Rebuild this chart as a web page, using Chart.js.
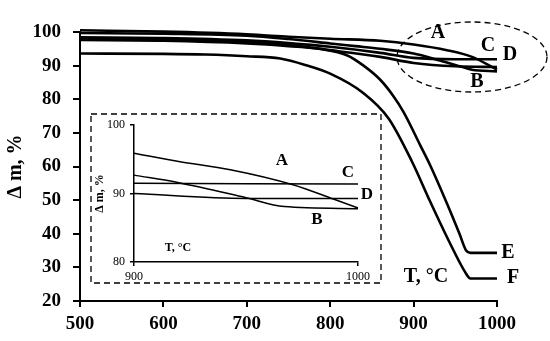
<!DOCTYPE html>
<html lang="en">
<head>
    <meta charset="UTF-8">
    <title>TGA curves</title>
    <script src="https://cdn.jsdelivr.net/npm/chart.js"></script>
    <style>
        body { margin: 0; background: #fff; }
        #wrap { position: relative; width: 550px; height: 341px; }
        #mainChart { position: absolute; left: 0; top: 0; }
        #insetChart { position: absolute; left: 90px; top: 113px; }
    </style>
</head>
<body>
    <div id="wrap">
        <canvas id="mainChart" width="550" height="341"></canvas>
        <canvas id="insetChart" width="292" height="171"></canvas>
    </div>

    <script>
        // temperature (°C) and mass (%)
        const tempA = [500, 600, 700, 750, 800, 860, 900, 940, 970, 1000];
        const massA = [100.5, 100.1, 99.3, 98.6, 98.0, 97.4, 96.3, 94.6, 92.6, 88.8];
        const tempB = [500, 600, 700, 750, 800, 830, 860, 900, 925, 950, 970, 1000];
        const massB = [99.7, 99.5, 98.9, 97.9, 96.6, 95.8, 95.0, 93.6, 92.0, 90.2, 88.8, 88.3];
        const tempC = [500, 600, 700, 750, 800, 860, 900, 950, 1000];
        const massC = [98.4, 98.2, 97.5, 96.7, 95.6, 93.8, 92.3, 91.9, 91.9];
        const tempD = [500, 600, 700, 750, 800, 860, 900, 950, 1000];
        const massD = [97.9, 97.7, 97.0, 96.1, 94.6, 92.6, 90.8, 89.8, 89.6];
        const tempE = [500, 600, 700, 750, 790, 820, 840, 860, 875, 888, 908, 920, 940, 955, 963, 968, 1000];
        const massE = [97.6, 97.4, 96.6, 95.8, 94.9, 93.1, 90.0, 85.8, 81.2, 76.2, 66.3, 60.3, 49.0, 40.0, 35.0, 34.3, 34.3];
        const tempF = [500, 600, 650, 700, 740, 770, 800, 840, 870, 898, 920, 942, 962, 968, 1000];
        const massF = [93.6, 93.5, 93.3, 92.8, 92.1, 90.2, 87.6, 81.8, 74.3, 61.5, 49.5, 38.0, 28.5, 26.7, 26.7];

        // zoomed 900-1000 °C part (inset)
        const insetTempA = [900, 920, 943, 971, 989, 1000];
        const insetMassA = [95.9, 94.7, 93.5, 91.3, 89.2, 87.9];
        const insetTempB = [900, 920, 950, 967, 1000];
        const insetMassB = [92.7, 91.6, 89.4, 88.1, 87.8];
        const insetTempC = [900, 1000];
        const insetMassC = [91.5, 91.4];
        const insetTempD = [900, 950, 1000];
        const insetMassD = [90.0, 89.3, 89.3];

        const xTicks = [500, 600, 700, 800, 900, 1000];
        const yTicks = [20, 30, 40, 50, 60, 70, 80, 90, 100];
        const insetXTicks = [900, 1000];
        const insetYTicks = [80, 90, 100];

        const serif = "'Liberation Serif', 'DejaVu Serif', serif";

        function toPoints(xs, ys) {
            return xs.map((x, i) => ({ x: x, y: ys[i] }));
        }

        function curve(xs, ys, width) {
            return {
                data: toPoints(xs, ys),
                borderColor: '#000',
                borderWidth: width,
                pointRadius: 0,
                cubicInterpolationMode: 'monotone',
                fill: false,
                clip: 8
            };
        }

        function label(ctx, text, x, y, size) {
            ctx.font = 'bold ' + size + 'px ' + serif;
            ctx.fillStyle = '#000';
            ctx.textAlign = 'center';
            ctx.textBaseline = 'middle';
            ctx.fillText(text, x, y);
        }

        // main chart: dashed ellipse and curve letters
        const mainDecor = {
            id: 'mainDecor',
            afterDraw(chart) {
                const ctx = chart.ctx;
                ctx.save();
                ctx.strokeStyle = '#000';
                ctx.lineWidth = 1.3;
                ctx.setLineDash([6, 4]);
                ctx.beginPath();
                ctx.ellipse(472, 57, 75, 35, 0, 0, Math.PI * 2);
                ctx.stroke();
                ctx.setLineDash([]);
                label(ctx, 'A', 438, 33, 20);
                label(ctx, 'C', 488, 46, 20);
                label(ctx, 'D', 510, 55, 20);
                label(ctx, 'B', 477, 82, 20);
                label(ctx, 'E', 508, 253, 20);
                label(ctx, 'F', 513, 278, 20);
                label(ctx, 'T, °C', 426, 277, 20);
                ctx.restore();
            }
        };

        new Chart(document.getElementById('mainChart'), {
            type: 'line',
            data: {
                datasets: [
                    curve(tempA, massA, 2.6),
                    curve(tempB, massB, 2.6),
                    curve(tempC, massC, 2.6),
                    curve(tempD, massD, 2.6),
                    curve(tempE, massE, 2.6),
                    curve(tempF, massF, 2.6)
                ]
            },
            options: {
                responsive: false,
                animation: false,
                devicePixelRatio: 1,
                layout: { padding: { top: 32, right: 53, left: 0, bottom: 0 } },
                plugins: { legend: { display: false }, tooltip: { enabled: false } },
                scales: {
                    x: {
                        type: 'linear',
                        min: 500,
                        max: 1000,
                        afterBuildTicks: s => { s.ticks = xTicks.map(v => ({ value: v })); },
                        afterFit: s => { s.height = 40; },
                        border: { display: true, color: '#000', width: 2 },
                        grid: { drawOnChartArea: false, drawTicks: true, tickLength: 6, color: '#000', lineWidth: 2 },
                        ticks: { color: '#000', padding: 6, callback: v => String(v), font: { family: serif, size: 19, weight: 'bold' } }
                    },
                    y: {
                        min: 20,
                        max: 100,
                        afterBuildTicks: s => { s.ticks = yTicks.map(v => ({ value: v })); },
                        afterFit: s => { s.width = 80; },
                        border: { display: true, color: '#000', width: 2 },
                        grid: { drawOnChartArea: false, drawTicks: true, tickLength: 7, color: '#000', lineWidth: 2 },
                        ticks: { color: '#000', padding: 12, callback: v => String(v), font: { family: serif, size: 19, weight: 'bold' } },
                        title: {
                            display: true,
                            text: 'Δ m, %',
                            color: '#000',
                            padding: { top: 4, bottom: 0 },
                            font: { family: serif, size: 20, weight: 'bold' }
                        }
                    }
                }
            },
            plugins: [mainDecor]
        });

        // inset: white box, dashed frame and letters
        const insetDecor = {
            id: 'insetDecor',
            beforeDraw(chart) {
                const ctx = chart.ctx;
                ctx.save();
                ctx.fillStyle = '#fff';
                ctx.fillRect(0, 0, chart.width, chart.height);
                ctx.restore();
            },
            afterDraw(chart) {
                const ctx = chart.ctx;
                ctx.save();
                ctx.strokeStyle = '#000';
                ctx.lineWidth = 1.3;
                ctx.setLineDash([6, 4]);
                ctx.strokeRect(1, 1, chart.width - 2, chart.height - 2);
                ctx.setLineDash([]);
                label(ctx, 'A', 192, 48, 17);
                label(ctx, 'C', 258, 60, 17);
                label(ctx, 'D', 277, 82, 17);
                label(ctx, 'B', 227, 107, 17);
                label(ctx, 'T, °C', 88, 135, 12);
                ctx.restore();
            }
        };

        new Chart(document.getElementById('insetChart'), {
            type: 'line',
            data: {
                datasets: [
                    curve(insetTempA, insetMassA, 1.5),
                    curve(insetTempB, insetMassB, 1.5),
                    curve(insetTempC, insetMassC, 1.5),
                    curve(insetTempD, insetMassD, 1.5)
                ]
            },
            options: {
                responsive: false,
                animation: false,
                devicePixelRatio: 1,
                layout: { padding: { top: 10, right: 24, left: 0, bottom: 0 } },
                plugins: { legend: { display: false }, tooltip: { enabled: false } },
                scales: {
                    x: {
                        type: 'linear',
                        min: 900,
                        max: 1000,
                        afterBuildTicks: s => { s.ticks = insetXTicks.map(v => ({ value: v })); },
                        afterFit: s => { s.height = 22; },
                        border: { display: true, color: '#000', width: 1.5 },
                        grid: { drawOnChartArea: false, drawTicks: true, tickLength: 4, color: '#000', lineWidth: 1.5 },
                        ticks: { color: '#000', padding: 4, callback: v => String(v), font: { family: serif, size: 12 } }
                    },
                    y: {
                        min: 80,
                        max: 100,
                        afterBuildTicks: s => { s.ticks = insetYTicks.map(v => ({ value: v })); },
                        afterFit: s => { s.width = 44; },
                        border: { display: true, color: '#000', width: 1.5 },
                        grid: { drawOnChartArea: false, drawTicks: true, tickLength: 4, color: '#000', lineWidth: 1.5 },
                        ticks: { color: '#000', padding: 5, callback: v => String(v), font: { family: serif, size: 12 } },
                        title: {
                            display: true,
                            text: 'Δ m, %',
                            color: '#000',
                            padding: { top: 3, bottom: 0 },
                            font: { family: serif, size: 12, weight: 'bold' }
                        }
                    }
                }
            },
            plugins: [insetDecor]
        });
    </script>
</body>
</html>
